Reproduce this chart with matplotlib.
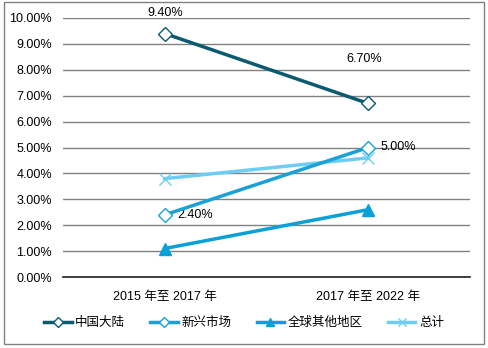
import matplotlib.pyplot as plt
from matplotlib.patches import Rectangle
import numpy as np

plt.rcParams['font.family'] = ['Liberation Sans', 'Noto Sans CJK SC', 'DejaVu Sans']

categories = ["2015 年至 2017 年", "2017 年至 2022 年"]
china = [9.4, 6.7]
emerging = [2.4, 5.0]
rest_world = [1.1, 2.6]
total = [3.8, 4.6]
yticks = [0, 1, 2, 3, 4, 5, 6, 7, 8, 9, 10]

fig = plt.figure(figsize=(4.88, 3.48), dpi=100)
ax = fig.add_axes([63 / 488, 71 / 348, 407 / 488, 259 / 348])

x = np.arange(len(categories))
ax.plot(x, china, color="#0b5a70", lw=2.5, marker="D", ms=7.5, mfc="white",
        mec="#0b5a70", mew=1, label="中国大陆", zorder=5)
ax.plot(x, emerging, color="#1ba1d6", lw=2.5, marker="D", ms=7.5, mfc="white",
        mec="#1ba1d6", mew=1, label="新兴市场", zorder=4)
ax.plot(x, rest_world, color="#0aa0d8", lw=2.5, marker="^", ms=8,
        label="全球其他地区", zorder=3)
ax.plot(x, total, color="#6dcdf5", lw=2.5, marker="x", ms=8, mew=1,
        label="总计", zorder=2)

ax.annotate(f"{china[0]:.2f}%", (x[0], china[0]), xytext=(0, 15),
            textcoords="offset points", ha="center", va="center", fontsize=9)
ax.annotate(f"{china[1]:.2f}%", (x[1], china[1]), xytext=(-3, 32),
            textcoords="offset points", ha="center", va="center", fontsize=9)
ax.annotate(f"{emerging[0]:.2f}%", (x[0], emerging[0]), xytext=(9, 0),
            textcoords="offset points", ha="left", va="center", fontsize=9)
ax.annotate(f"{emerging[1]:.2f}%", (x[1], emerging[1]), xytext=(9, 0),
            textcoords="offset points", ha="left", va="center", fontsize=9)

ax.set_xlim(-0.5, 1.5)
ax.set_ylim(0, 10)
ax.set_yticks(yticks)
ax.set_yticklabels([f"{v:.2f}%" for v in yticks], fontsize=9)
ax.set_xticks(x)
ax.set_xticklabels(categories, fontsize=9)
ax.tick_params(length=0, pad=8)
ax.tick_params(axis="x", pad=10)
ax.grid(axis="y", color="#808080", lw=1)
ax.set_axisbelow(True)
for s in ["top", "right", "left"]:
    ax.spines[s].set_visible(False)
ax.spines["bottom"].set_color("#202020")
ax.spines["bottom"].set_linewidth(1.2)

fig.legend(loc="center", bbox_to_anchor=(0.5, 25 / 348), ncol=4, frameon=False,
           fontsize=9, handlelength=2.2, columnspacing=2.0, handletextpad=0.3,
           markerscale=0.7)

fig.patches.append(Rectangle((4 / 488, 4 / 348), 480 / 488, 342 / 348,
                             transform=fig.transFigure, fill=False,
                             ec="#808080", lw=1))

fig.savefig("out.png", dpi=100)
